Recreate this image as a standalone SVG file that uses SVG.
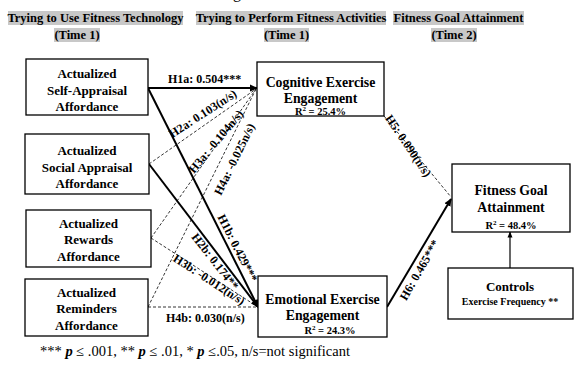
<svg xmlns="http://www.w3.org/2000/svg" width="574" height="366" viewBox="0 0 574 366">
<style>
text{font-family:"Liberation Serif","Times New Roman",serif;font-weight:bold;fill:#000}
.hd{font-size:12.5px;text-anchor:middle}
.bx{font-size:13px;text-anchor:middle}
.big{font-size:13.8px;text-anchor:middle}
.r2{font-size:10.5px;text-anchor:middle}
.lb{font-size:12px}
.box{fill:#fff;stroke:#000;stroke-width:1.3}
.hl{fill:#c8c8c8}
.sol{stroke:#000;stroke-width:2;fill:none}
.das{stroke:#000;stroke-width:0.8;stroke-dasharray:3 2;fill:none}
</style>
<defs>
<marker id="ah" markerWidth="8" markerHeight="8" refX="7" refY="4" orient="auto" markerUnits="userSpaceOnUse">
<path d="M0,0.5 L8,4 L0,7.5 z" fill="#000"/>
</marker>
<marker id="ahs" markerWidth="6" markerHeight="6" refX="5.5" refY="3" orient="auto" markerUnits="userSpaceOnUse">
<path d="M0,0.5 L6,3 L0,5.5 z" fill="#000"/>
</marker>
</defs>
<rect width="574" height="366" fill="#fff"/>
<text x="233" y="-2" style="font-size:16px;font-weight:normal">g</text>
<g id="headers">
<rect class="hl" x="8" y="11" width="175" height="14"/>
<rect class="hl" x="196" y="11" width="190" height="14"/>
<rect class="hl" x="393" y="11" width="131" height="14"/>
<rect class="hl" x="54" y="28" width="46" height="14"/>
<rect class="hl" x="264" y="28" width="45" height="14"/>
<rect class="hl" x="431" y="28" width="46" height="14"/>
<text class="hd" x="95.5" y="22">Trying to Use Fitness Technology</text>
<text class="hd" x="77" y="39">(Time 1)</text>
<text class="hd" x="291" y="22">Trying to Perform Fitness Activities</text>
<text class="hd" x="286.5" y="39">(Time 1)</text>
<text class="hd" x="458.5" y="22">Fitness Goal Attainment</text>
<text class="hd" x="454" y="39">(Time 2)</text>
</g>
<g id="connectors">
<line class="sol" x1="148" y1="88" x2="257" y2="88" marker-end="url(#ah)"/>
<line class="das" x1="149" y1="164" x2="256" y2="89"/>
<line class="das" x1="151" y1="238" x2="256" y2="89"/>
<line class="das" x1="148" y1="307" x2="256" y2="89"/>
<line class="sol" x1="148" y1="88" x2="258" y2="307" marker-end="url(#ah)"/>
<line class="sol" x1="149" y1="164" x2="258" y2="307" marker-end="url(#ah)"/>
<line class="das" x1="151" y1="238" x2="258" y2="307"/>
<line class="das" x1="148" y1="307" x2="258" y2="307"/>
<line class="das" x1="384" y1="116" x2="451" y2="197"/>
<line class="sol" x1="387" y1="307" x2="451" y2="199" marker-end="url(#ah)"/>
<line stroke="#000" stroke-width="1.2" x1="510" y1="268" x2="510" y2="232" marker-end="url(#ahs)"/>
<text class="lb" x="168" y="83">H1a: 0.504***</text>
<text class="lb" text-anchor="middle" transform="translate(205,117) rotate(-33)">H2a: 0.103(n/s)</text>
<text class="lb" text-anchor="middle" transform="translate(219,144) rotate(-50)">H3a: -0.104n/s)</text>
<text class="lb" text-anchor="middle" transform="translate(238,161) rotate(-64)">H4a: -0.025n/s)</text>
<text class="lb" text-anchor="middle" transform="translate(234,250) rotate(63)">H1b: 0.429***</text>
<text class="lb" text-anchor="middle" transform="translate(212,264) rotate(52)">H2b: 0.174**</text>
<text class="lb" text-anchor="middle" transform="translate(207,283) rotate(33)">H3b: -0.012(n/s)</text>
<text class="lb" x="166" y="322">H4b: 0.030(n/s)</text>
<text class="lb" text-anchor="middle" transform="translate(405,148) rotate(56)">H5: 0.090(n/s)</text>
<text class="lb" text-anchor="middle" transform="translate(423,272) rotate(-60)">H6: 0.465***</text>
</g>
<g id="self-appraisal">
<rect class="box" x="26" y="59" width="122" height="56"/>
<text class="bx" x="87" y="78">Actualized</text>
<text class="bx" x="87" y="95">Self-Appraisal</text>
<text class="bx" x="87" y="111">Affordance</text>
</g>
<g id="social-appraisal">
<rect class="box" x="25" y="134" width="124" height="60"/>
<text class="bx" x="87" y="155">Actualized</text>
<text class="bx" x="87" y="172">Social Appraisal</text>
<text class="bx" x="87" y="188">Affordance</text>
</g>
<g id="rewards">
<rect class="box" x="26" y="210" width="125" height="57"/>
<text class="bx" x="88.5" y="228">Actualized</text>
<text class="bx" x="88.5" y="244">Rewards</text>
<text class="bx" x="88.5" y="261">Affordance</text>
</g>
<g id="reminders">
<rect class="box" x="25" y="279" width="123" height="57"/>
<text class="bx" x="86.5" y="297">Actualized</text>
<text class="bx" x="86.5" y="313">Reminders</text>
<text class="bx" x="86.5" y="330">Affordance</text>
</g>
<g id="cognitive">
<rect class="box" x="257" y="62" width="127" height="54"/>
<text class="big" x="320.5" y="87">Cognitive Exercise</text>
<text class="big" x="320.5" y="103">Engagement</text>
<text class="r2" x="320.5" y="115">R<tspan font-size="7" dy="-4">2</tspan><tspan dy="4"> = 25.4%</tspan></text>
</g>
<g id="emotional">
<rect class="box" x="258" y="276" width="129" height="61"/>
<text class="big" x="322.5" y="304">Emotional Exercise</text>
<text class="big" x="322.5" y="320">Engagement</text>
<text class="r2" x="330" y="334">R<tspan font-size="7" dy="-4">2</tspan><tspan dy="4"> = 24.3%</tspan></text>
</g>
<g id="fitness-goal">
<rect class="box" x="452" y="164" width="118" height="68"/>
<text class="big" x="511" y="195">Fitness Goal</text>
<text class="big" x="511" y="212">Attainment</text>
<text class="r2" x="511" y="229">R<tspan font-size="7" dy="-4">2</tspan><tspan dy="4"> = 48.4%</tspan></text>
</g>
<g id="controls">
<rect class="box" x="448" y="268" width="125" height="51"/>
<text class="bx" x="510" y="291">Controls</text>
<text style="font-size:10px;text-anchor:middle" x="510" y="305">Exercise Frequency **</text>
</g>
<text x="40" y="356" style="font-weight:normal;font-size:14.5px">*** <tspan font-weight="bold" font-style="italic">p</tspan> ≤ .001, ** <tspan font-weight="bold" font-style="italic">p</tspan> ≤ .01, * <tspan font-weight="bold" font-style="italic">p</tspan> ≤.05, n/s=not significant</text>
</svg>
